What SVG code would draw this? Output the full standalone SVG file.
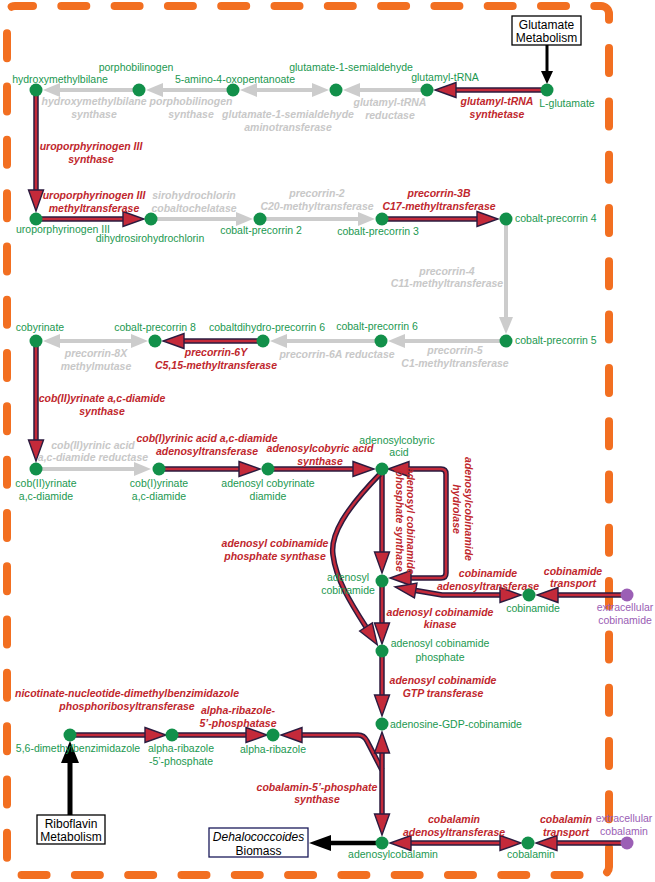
<svg xmlns="http://www.w3.org/2000/svg" width="655" height="882" viewBox="0 0 655 882">
<style>
.n{fill:#12904a}
.np{fill:#9b5fb5}
.t{font-family:"Liberation Sans",Arial,sans-serif;font-size:10.5px;fill:#1b9850;text-anchor:middle}
.ts{text-anchor:start}
.tp{fill:#9a5db4}
.r{font-family:"Liberation Sans",Arial,sans-serif;font-size:10.5px;font-weight:bold;font-style:italic;fill:#c0272d;text-anchor:middle}
.g{font-family:"Liberation Sans",Arial,sans-serif;font-size:10.5px;font-weight:bold;font-style:italic;fill:#c8c8c8;text-anchor:middle}
.ro{fill:none;stroke:#2b1b3f;stroke-width:5.5}
.ri{fill:none;stroke:#c42a3a;stroke-width:2.5;marker-end:url(#rh)}
.rb{marker-start:url(#rh)}
.gl{fill:none;stroke:#cccccc;stroke-width:4;marker-end:url(#gh)}
.gb{marker-start:url(#gh)}
.bl{fill:none;stroke:#000}
.box{fill:#fff;stroke:#000;stroke-width:1.3}
.bt{font-family:"Liberation Sans",Arial,sans-serif;font-size:12px;fill:#000;text-anchor:middle}
</style>
<defs>
<marker id="rh" markerWidth="24" markerHeight="16" refX="0" refY="7.5" orient="auto-start-reverse" markerUnits="userSpaceOnUse" overflow="visible"><path d="M0,0 L21,7.5 L0,15 Z" fill="#c42a3a" stroke="#2b1b3f" stroke-width="1.4"/></marker>
<marker id="gh" markerWidth="20" markerHeight="16" refX="0" refY="7" orient="auto-start-reverse" markerUnits="userSpaceOnUse" overflow="visible"><path d="M0,0 L17,7 L0,14 Z" fill="#cccccc"/></marker>
</defs>
<rect x="7" y="6" width="602" height="869" rx="8" fill="none" stroke="#f26f21" stroke-width="8" stroke-linecap="round" stroke-dasharray="25 28.3" stroke-dashoffset="7"/>
<g id="connectors">
<path class="gl" d="M139,90 H60"/>
<path class="gl" d="M233,90 H163"/>
<path class="gl gb" d="M257,90 H312"/>
<path class="gl" d="M427,90 H360"/>
<path class="gl" d="M151,219 H236"/>
<path class="gl" d="M260,219 H358"/>
<path class="gl" d="M506,219 V317"/>
<path class="gl" d="M506,341 H405"/>
<path class="gl" d="M381,341 H287"/>
<path class="gl gb" d="M60,341 H131"/>
<path class="gl" d="M36,469 H134"/>
<path class="ro" d="M547,90 H456"/><path class="ri" d="M547,90 H456"/>
<path class="ro" d="M36,90 V190"/><path class="ri" d="M36,90 V190"/>
<path class="ro" d="M36,219 H123"/><path class="ri" d="M36,219 H123"/>
<path class="ro" d="M382,219 H477"/><path class="ri" d="M382,219 H477"/>
<path class="ro" d="M263,341 H184"/><path class="ri" d="M263,341 H184"/>
<path class="ro" d="M36,341 V440"/><path class="ri" d="M36,341 V440"/>
<path class="ro" d="M159,469 H239"/><path class="ri" d="M159,469 H239"/>
<path class="ro" d="M268,469 H353"/><path class="ri" d="M268,469 H353"/>
<path class="ro" d="M382,469 V552"/><path class="ri" d="M382,469 V552"/>
<path class="ro" d="M380,474 C345,510 330,535 333,555 C336,580 352,605 366,627"/><path class="ri" d="M380,474 C345,510 330,535 333,555 C336,580 352,605 366,627"/>
<path class="ro" d="M411,578 H441 Q446,578 446,573 V474 Q446,469 441,469 H409"/><path class="ri rb" d="M411,578 H441 Q446,578 446,573 V474 Q446,469 441,469 H409"/>
<path class="ro" d="M500,595 H442 L415.7,590.5"/><path class="ri rb" d="M500,595 H442 L415.7,590.5"/>
<path class="ro" d="M382,581 V623"/><path class="ri" d="M382,581 V623"/>
<path class="ro" d="M627,595 H558"/><path class="ri" d="M627,595 H558"/>
<path class="ro" d="M382,651 V695"/><path class="ri" d="M382,651 V695"/>
<path class="ro" d="M382,770 L367,741 Q364,735 358,735 H302"/><path class="ri" d="M382,770 L367,741 Q364,735 358,735 H302"/>
<path class="ro" d="M382,753 V814"/><path class="ri rb" d="M382,753 V814"/>
<path class="ro" d="M70,735 H145"/><path class="ri" d="M70,735 H145"/>
<path class="ro" d="M172,735 H246"/><path class="ri" d="M172,735 H246"/>
<path class="ro" d="M411,843 H500"/><path class="ri rb" d="M411,843 H500"/>
<path class="ro" d="M627,843 H557"/><path class="ri" d="M627,843 H557"/>
<path class="bl" stroke-width="3" d="M547,45 V72"/><polygon points="541,71 553,71 547,84" fill="#000"/>
<path class="bl" stroke-width="5" d="M70,815 V762"/><polygon points="61,763 79,763 70,741" fill="#000"/>
<path class="bl" stroke-width="4.5" d="M376,843 H330"/><polygon points="331,835 331,851 309,843" fill="#000"/>
</g>
<g id="enzyme-labels">
<text class="g" x="94" y="105">hydroxymethylbilane<tspan x="94" dy="13">synthase</tspan></text>
<text class="g" x="191" y="105">porphobilinogen<tspan x="191" dy="13">synthase</tspan></text>
<text class="g" x="288" y="118">glutamate-1-semialdehyde<tspan x="288" dy="13">aminotransferase</tspan></text>
<text class="g" x="390" y="106">glutamyl-tRNA<tspan x="390" dy="13">reductase</tspan></text>
<text class="r" x="497" y="105">glutamyl-tRNA<tspan x="497" dy="13">synthetase</tspan></text>
<text class="r" x="91" y="150">uroporphyrinogen III<tspan x="91" dy="13">synthase</tspan></text>
<text class="r" x="94" y="199">uroporphyrinogen III<tspan x="94" dy="13">methyltransferase</tspan></text>
<text class="g" x="194" y="199">sirohydrochlorin<tspan x="194" dy="13">cobaltochelatase</tspan></text>
<text class="g" x="317" y="197">precorrin-2<tspan x="317" dy="13">C20-methyltransferase</tspan></text>
<text class="r" x="439" y="197">precorrin-3B<tspan x="439" dy="13">C17-methyltransferase</tspan></text>
<text class="g" x="447" y="275">precorrin-4<tspan x="447" dy="12">C11-methyltransferase</tspan></text>
<text class="g" x="455" y="354">precorrin-5<tspan x="455" dy="13">C1-methyltransferase</tspan></text>
<text class="g" x="337" y="358">precorrin-6A reductase</text>
<text class="r" x="216" y="356">precorrin-6Y<tspan x="216" dy="13">C5,15-methyltransferase</tspan></text>
<text class="g" x="96" y="357">precorrin-8X<tspan x="96" dy="13">methylmutase</tspan></text>
<text class="r" x="102" y="402">cob(II)yrinate a,c-diamide<tspan x="102" dy="13">synthase</tspan></text>
<text class="g" x="93" y="449">cob(II)yrinic acid<tspan x="93" dy="12">a,c-diamide reductase</tspan></text>
<text class="r" x="207" y="442">cob(I)yrinic acid a,c-diamide<tspan x="207" dy="13">adenosyltransferase</tspan></text>
<text class="r" x="320" y="452">adenosylcobyric acid<tspan x="320" dy="13">synthase</tspan></text>
<text class="r" x="275" y="547">adenosyl cobinamide<tspan x="275" dy="13">phosphate synthase</tspan></text>
<text class="r" transform="translate(407,521) rotate(90)"><tspan x="0" y="0">adenosyl cobinamide</tspan><tspan x="0" y="11">phosphate synthase</tspan></text>
<text class="r" transform="translate(465,509) rotate(90)"><tspan x="0" y="0">adenosylcobinamide</tspan><tspan x="0" y="12">hydrolase</tspan></text>
<text class="r" x="488" y="577">cobinamide<tspan x="488" dy="13">adenosyltransferase</tspan></text>
<text class="r" x="573" y="575">cobinamide<tspan x="573" dy="12">transport</tspan></text>
<text class="r" x="440" y="616">adenosyl cobinamide<tspan x="440" dy="12">kinase</tspan></text>
<text class="r" x="443" y="684">adenosyl cobinamide<tspan x="443" dy="13">GTP transferase</tspan></text>
<text class="r" x="127" y="697">nicotinate-nucleotide-dimethylbenzimidazole<tspan x="127" dy="13">phosphoribosyltransferase</tspan></text>
<text class="r" x="238" y="714">alpha-ribazole-<tspan x="238" dy="13">5’-phosphatase</tspan></text>
<text class="r" x="317" y="791">cobalamin-5’-phosphate<tspan x="317" dy="12">synthase</tspan></text>
<text class="r" x="454" y="823">cobalamin<tspan x="454" dy="13">adenosyltransferase</tspan></text>
<text class="r" x="566" y="823">cobalamin<tspan x="566" dy="13">transport</tspan></text>
</g>
<g id="box-glutamate"><rect class="box" x="512" y="16" width="69" height="29"/><text class="bt" x="546.5" y="29">Glutamate<tspan x="546.5" dy="13">Metabolism</tspan></text></g>
<g id="box-riboflavin"><rect class="box" x="37" y="815" width="68" height="29"/><text class="bt" x="71" y="828">Riboflavin<tspan x="71" dy="13">Metabolism</tspan></text></g>
<g id="box-biomass"><rect class="box" x="209" y="828" width="99" height="29" style="stroke:#1b1b5a"/><text class="bt" x="258.5" y="841"><tspan font-style="italic">Dehalococcoides</tspan><tspan x="258.5" dy="14">Biomass</tspan></text></g>
<g id="n-hydroxymethylbilane"><circle class="n" cx="36" cy="90" r="6.5"/><text class="t" x="60" y="83">hydroxymethylbilane</text></g>
<g id="n-porphobilinogen"><circle class="n" cx="139" cy="90" r="6.5"/><text class="t" x="136" y="71">porphobilinogen</text></g>
<g id="n-aminooxopentanoate"><circle class="n" cx="233" cy="90" r="6.5"/><text class="t" x="235" y="83">5-amino-4-oxopentanoate</text></g>
<g id="n-glutamate-semialdehyde"><circle class="n" cx="336" cy="90" r="6.5"/><text class="t" x="351" y="71">glutamate-1-semialdehyde</text></g>
<g id="n-glutamyl-trna"><circle class="n" cx="427" cy="90" r="6.5"/><text class="t" x="445" y="81">glutamyl-tRNA</text></g>
<g id="n-l-glutamate"><circle class="n" cx="547" cy="90" r="6.5"/><text class="t" x="567" y="107">L-glutamate</text></g>
<g id="n-uroporphyrinogen"><circle class="n" cx="36" cy="219" r="6.5"/><text class="t" x="63" y="233">uroporphyrinogen III</text></g>
<g id="n-dihydrosirohydrochlorin"><circle class="n" cx="151" cy="219" r="6.5"/><text class="t" x="150" y="242">dihydrosirohydrochlorin</text></g>
<g id="n-cp2"><circle class="n" cx="260" cy="219" r="6.5"/><text class="t" x="261" y="234">cobalt-precorrin 2</text></g>
<g id="n-cp3"><circle class="n" cx="382" cy="219" r="6.5"/><text class="t" x="378" y="235">cobalt-precorrin 3</text></g>
<g id="n-cp4"><circle class="n" cx="506" cy="219" r="6.5"/><text class="t ts" x="515" y="222">cobalt-precorrin 4</text></g>
<g id="n-cp5"><circle class="n" cx="506" cy="341" r="6.5"/><text class="t ts" x="515" y="344">cobalt-precorrin 5</text></g>
<g id="n-cp6"><circle class="n" cx="381" cy="341" r="6.5"/><text class="t" x="377" y="330">cobalt-precorrin 6</text></g>
<g id="n-cdp6"><circle class="n" cx="263" cy="341" r="6.5"/><text class="t" x="267" y="331">cobaltdihydro-precorrin 6</text></g>
<g id="n-cp8"><circle class="n" cx="155" cy="341" r="6.5"/><text class="t" x="155" y="331">cobalt-precorrin 8</text></g>
<g id="n-cobyrinate"><circle class="n" cx="36" cy="341" r="6.5"/><text class="t" x="40" y="331">cobyrinate</text></g>
<g id="n-cob2"><circle class="n" cx="36" cy="469" r="6.5"/><text class="t" x="46" y="487">cob(II)yrinate<tspan x="46" dy="13">a,c-diamide</tspan></text></g>
<g id="n-cob1"><circle class="n" cx="159" cy="469" r="6.5"/><text class="t" x="159" y="487">cob(I)yrinate<tspan x="159" dy="13">a,c-diamide</tspan></text></g>
<g id="n-adocobyrinate"><circle class="n" cx="268" cy="469" r="6.5"/><text class="t" x="268" y="487">adenosyl cobyrinate<tspan x="268" dy="13">diamide</tspan></text></g>
<g id="n-adocobyric"><circle class="n" cx="382" cy="469" r="6.5"/><text class="t" x="397" y="444">adenosylcobyric<tspan x="399" dy="12">acid</tspan></text></g>
<g id="n-adocbi"><circle class="n" cx="382" cy="581" r="6.5"/><text class="t" x="348" y="581">adenosyl<tspan x="348" dy="13">cobinamide</tspan></text></g>
<g id="n-adocbip"><circle class="n" cx="382" cy="651" r="6.5"/><text class="t" x="440" y="647">adenosyl cobinamide<tspan x="440" dy="14">phosphate</tspan></text></g>
<g id="n-cobinamide"><circle class="n" cx="529" cy="595" r="6.5"/><text class="t" x="533" y="612">cobinamide</text></g>
<g id="n-ext-cobinamide"><circle class="np" cx="627" cy="595" r="6.5"/><text class="t tp" x="625" y="611">extracellular<tspan x="625" dy="13">cobinamide</tspan></text></g>
<g id="n-gdp-cbi"><circle class="n" cx="382" cy="724" r="6.5"/><text class="t ts" x="390" y="728">adenosine-GDP-cobinamide</text></g>
<g id="n-dmb"><circle class="n" cx="70" cy="735" r="6.5"/><text class="t" x="78" y="752">5,6-dimethylbenzimidazole</text></g>
<g id="n-arp"><circle class="n" cx="172" cy="735" r="6.5"/><text class="t" x="181" y="752">alpha-ribazole<tspan x="181" dy="13">-5’-phosphate</tspan></text></g>
<g id="n-ar"><circle class="n" cx="273" cy="735" r="6.5"/><text class="t" x="273" y="753">alpha-ribazole</text></g>
<g id="n-adocbl"><circle class="n" cx="382" cy="843" r="6.5"/><text class="t" x="393" y="858">adenosylcobalamin</text></g>
<g id="n-cobalamin"><circle class="n" cx="528" cy="843" r="6.5"/><text class="t" x="531" y="858">cobalamin</text></g>
<g id="n-ext-cobalamin"><circle class="np" cx="627" cy="843" r="6.5"/><text class="t tp" x="624" y="822">extracellular<tspan x="624" dy="13">cobalamin</tspan></text></g>
</svg>
